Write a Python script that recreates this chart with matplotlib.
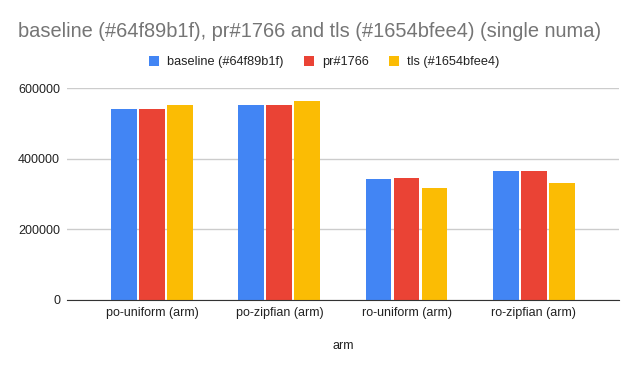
import numpy as np
import matplotlib
matplotlib.use("Agg")
import matplotlib.pyplot as plt

categories = ["po-uniform (arm)", "po-zipfian (arm)", "ro-uniform (arm)", "ro-zipfian (arm)"]
series_names = ["baseline (#64f89b1f)", "pr#1766", "tls (#1654bfee4)"]
baseline = [540500, 552000, 342500, 365000]
pr1766 = [540500, 552000, 345000, 365000]
tls = [552000, 562000, 317000, 331000]
colors = ["#4285f4", "#ea4335", "#fbbc04"]

plt.rcParams['font.family'] = ['Liberation Sans', 'DejaVu Sans']

fig = plt.figure(figsize=(6.38, 3.71), dpi=100)
ax = fig.add_axes([0.105, 0.1914, 0.865, 0.5714])

x = np.arange(len(categories))
step = 0.22
width = 0.204
for i, (vals, name) in enumerate(zip([baseline, pr1766, tls], series_names)):
    ax.bar(x + (i - 1) * step, vals, width, color=colors[i], label=name, zorder=3)

ax.set_xlim(-0.67, 3.67)
ax.set_ylim(0, 600000)
ax.set_yticks([0, 200000, 400000, 600000])
ax.set_yticklabels(["0", "200000", "400000", "600000"])
ax.set_xticks(x)
ax.set_xticklabels(categories)
ax.tick_params(axis='both', length=0, labelsize=9, colors="#222222", pad=5)
ax.grid(axis='y', color="#cccccc", lw=1, zorder=0)
for s in ["top", "right", "left"]:
    ax.spines[s].set_visible(False)
ax.spines["bottom"].set_color("#333333")
ax.spines["bottom"].set_zorder(4)
ax.set_xlabel("arm", fontsize=9, color="#222222", labelpad=15)

fig.text(0.485, 0.915, "baseline (#64f89b1f), pr#1766 and tls (#1654bfee4) (single numa)",
         ha="center", va="center", fontsize=14.4, color="#757575")
fig.legend(loc="center", bbox_to_anchor=(0.508, 0.833), ncol=3, frameon=False, fontsize=9.2,
           handlelength=0.8, handleheight=0.8, handletextpad=0.6, columnspacing=1.6,
           labelcolor="#222222")

fig.savefig("out.png", dpi=100)
